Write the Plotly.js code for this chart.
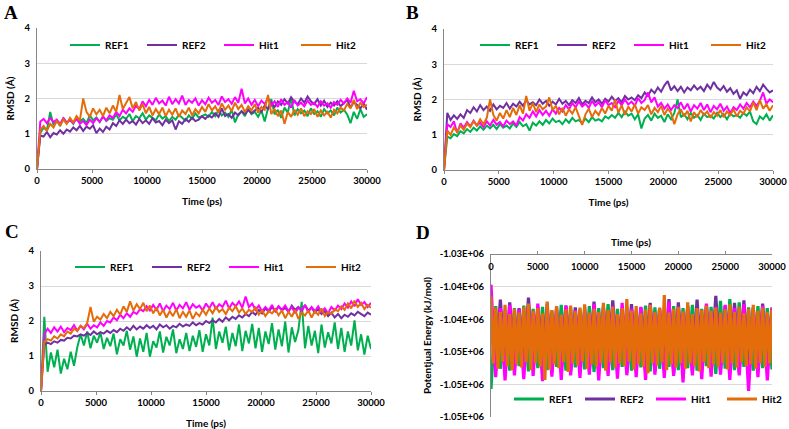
<!DOCTYPE html>
<html>
<head>
<meta charset="utf-8">
<script src="https://cdn.plot.ly/plotly-3.0.1.min.js"></script>
<style>
  html, body { margin: 0; padding: 0; background: #fff; }
  #chart { width: 789px; height: 429px; }
</style>
</head>
<body>
<div id="chart"></div>
<script>
// Series names and colours
const seriesNames = ['REF1', 'REF2', 'Hit1', 'Hit2'];
const seriesColors = ['#00B050', '#7030A0', '#FF00FF', '#E46C0A'];

// RMSD runs are sampled every 300 ps, energy runs every 250 / 500 ps
const rmsdStep = 300;
const peStepFine = 250;
const peStepCoarse = 500;

// Panel A - RMSD (Å)
const aRef1 = [0,
  1.02, 1.18, 1.10, 1.62, 1.25, 1.38, 1.22, 1.45, 1.30, 1.40,
  1.28, 1.48, 1.35, 1.42, 1.30, 1.52, 1.38, 1.46, 1.33, 1.50,
  1.36, 1.44, 1.40, 1.55, 1.38, 1.48, 1.42, 1.56, 1.36, 1.50,
  1.44, 1.58, 1.40, 1.52, 1.46, 1.38, 1.55, 1.43, 1.50, 1.36,
  1.48, 1.40, 1.54, 1.44, 1.37, 1.52, 1.42, 1.58, 1.46, 1.50,
  1.55, 1.48, 1.62, 1.50, 1.66, 1.52, 1.60, 1.48, 1.68, 1.32,
  1.55, 1.64, 1.50, 1.70, 1.56, 1.62, 1.48, 1.66, 1.35, 1.72,
  1.98, 1.55, 1.68, 1.45, 1.74, 1.60, 2.02, 1.52, 1.70, 1.58,
  1.66, 1.50, 1.72, 1.56, 1.64, 1.48, 1.70, 1.58, 1.66, 1.52,
  1.74, 1.60, 1.68, 1.55, 1.30, 1.62, 1.42, 1.70, 1.48, 1.55];
const aRef2 = [0,
  0.95, 0.92, 1.05, 0.90, 1.02, 0.98, 1.10, 1.00, 1.12, 1.06,
  1.18, 1.10, 1.22, 1.08, 1.20, 1.14, 1.24, 1.02, 1.15, 1.05,
  1.20, 1.12, 1.30, 1.22, 1.38, 1.28, 1.40, 1.30, 1.36, 1.26,
  1.42, 1.30, 1.38, 1.28, 1.44, 1.32, 1.36, 1.24, 1.40, 1.30,
  1.38, 1.12, 1.35, 1.28, 1.42, 1.34, 1.46, 1.36, 1.40, 1.50,
  1.42, 1.52, 1.46, 1.58, 1.48, 1.72, 1.50, 1.56, 1.45, 1.60,
  1.52, 1.64, 1.56, 1.68, 1.58, 1.66, 1.74, 1.62, 1.80, 1.70,
  1.88, 1.76, 1.92, 1.82, 1.98, 1.86, 2.04, 1.90, 1.84, 2.00,
  1.88, 2.06, 1.92, 1.84, 1.98, 1.80, 1.94, 1.76, 1.88, 1.80,
  1.92, 1.78, 1.86, 1.96, 1.74, 1.90, 1.82, 1.72, 1.86, 1.68];
const aHit1 = [0,
  1.35, 1.42, 1.30, 1.45, 1.33, 1.40, 1.28, 1.44, 1.32, 1.38,
  1.30, 1.42, 1.28, 1.36, 1.25, 1.40, 1.30, 1.44, 1.34, 1.48,
  1.38, 1.52, 1.45, 1.62, 1.50, 1.68, 1.58, 1.72, 1.62, 1.80,
  1.70, 1.92, 1.78, 1.96, 1.82, 2.02, 1.86, 1.94, 1.80, 2.05,
  1.84, 1.98, 1.86, 2.08, 1.82, 1.96, 1.88, 2.00, 1.80, 1.95,
  1.84, 2.02, 1.88, 1.96, 1.82, 2.06, 1.90, 1.98, 1.85, 2.04,
  1.88, 2.28, 1.86, 2.00, 1.82, 1.96, 1.78, 1.94, 1.84, 2.02,
  1.80, 1.92, 1.76, 1.98, 1.82, 1.90, 1.74, 1.96, 1.80, 1.88,
  1.78, 1.94, 1.82, 1.88, 1.76, 1.92, 1.80, 1.86, 1.74, 1.90,
  1.82, 1.96, 1.86, 2.00, 1.88, 2.22, 1.92, 1.98, 1.86, 2.04];
const aHit2 = [0,
  1.10, 1.22, 1.08, 1.28, 1.18, 1.36, 1.24, 1.40, 1.28, 1.45,
  1.32, 1.50, 1.38, 2.00, 1.62, 1.48, 1.72, 1.55, 1.68, 1.50,
  1.74, 1.58, 1.80, 1.62, 2.10, 1.70, 1.88, 2.04, 1.72, 1.90,
  1.66, 1.84, 1.58, 1.76, 1.52, 1.70, 1.56, 1.74, 1.50, 1.68,
  1.54, 1.72, 1.48, 1.66, 1.56, 1.74, 1.52, 1.70, 1.58, 1.76,
  1.62, 1.84, 1.66, 1.78, 1.60, 1.86, 1.68, 1.80, 1.64, 1.88,
  1.70, 1.82, 1.62, 1.78, 1.66, 1.84, 1.60, 1.76, 1.68, 2.10,
  1.56, 1.70, 1.50, 1.66, 1.28, 1.62, 1.48, 1.68, 1.54, 1.72,
  1.50, 1.64, 1.56, 1.70, 1.48, 1.66, 1.52, 1.62, 1.46, 1.68,
  1.58, 1.74, 1.66, 1.84, 1.72, 1.96, 1.70, 1.88, 1.76, 1.82];

// Panel B - RMSD (Å)
const bRef1 = [0,
  0.95, 0.90, 1.02, 0.96, 1.10, 1.04, 1.16, 1.08, 1.20, 1.12,
  1.24, 1.14, 1.26, 1.18, 1.28, 1.16, 1.30, 1.20, 1.26, 1.18,
  1.32, 1.22, 1.36, 1.24, 1.30, 1.12, 1.34, 1.26, 1.38, 1.28,
  1.42, 1.32, 1.46, 1.36, 1.40, 1.30, 1.44, 1.34, 1.48, 1.38,
  1.42, 1.32, 1.46, 1.36, 1.50, 1.40, 1.44, 1.38, 1.52, 1.46,
  1.56, 1.48, 1.62, 1.50, 1.66, 1.54, 1.60, 1.44, 1.58, 1.18,
  1.46, 1.56, 1.40, 1.60, 1.48, 1.54, 1.36, 1.58, 1.44, 1.62,
  2.00, 1.50, 1.58, 1.44, 1.62, 1.48, 1.56, 1.42, 1.60, 1.50,
  1.54, 1.46, 1.62, 1.50, 1.58, 1.44, 1.60, 1.52, 1.56, 1.48,
  1.62, 1.54, 1.66, 1.38, 1.30, 1.52, 1.44, 1.58, 1.40, 1.55];
const bRef2 = [0,
  1.62, 1.42, 1.55, 1.45, 1.58, 1.48, 1.70, 1.62, 1.78, 1.66,
  1.84, 1.70, 1.80, 1.68, 1.86, 1.72, 1.82, 1.76, 1.90, 1.74,
  1.88, 1.80, 1.94, 1.82, 1.98, 1.86, 1.92, 1.84, 2.00, 1.88,
  1.96, 1.82, 1.94, 1.86, 2.02, 1.88, 1.96, 1.84, 1.98, 1.90,
  2.04, 1.86, 1.96, 1.90, 2.06, 1.92, 2.00, 1.88, 2.02, 1.94,
  2.08, 1.96, 2.04, 1.92, 2.10, 2.00, 2.06, 1.98, 2.12, 2.04,
  2.20, 2.10, 2.28, 2.18, 2.34, 2.22, 2.40, 2.52, 2.26, 2.38,
  2.24, 2.36, 2.20, 2.34, 2.26, 2.40, 2.28, 2.36, 2.24, 2.42,
  2.30, 2.50, 2.34, 2.26, 2.38, 2.22, 2.32, 2.16, 2.26, 2.02,
  2.20, 2.12, 2.28, 2.18, 2.36, 2.24, 2.42, 2.30, 2.20, 2.26];
const bHit1 = [0,
  1.30, 1.22, 1.38, 1.05, 1.32, 1.20, 1.36, 1.24, 1.40, 1.26,
  1.34, 1.22, 1.38, 1.26, 1.42, 1.28, 1.36, 1.24, 1.40, 1.30,
  1.38, 1.26, 1.50, 1.40, 1.58, 1.48, 1.66, 1.52, 1.70, 1.56,
  1.68, 1.54, 1.72, 1.60, 1.76, 1.66, 1.84, 1.72, 1.90, 1.78,
  1.94, 1.80, 1.88, 1.76, 1.96, 1.82, 1.92, 1.78, 1.98, 1.84,
  1.90, 1.78, 1.96, 1.84, 2.00, 1.86, 1.94, 1.82, 2.04, 1.90,
  1.98, 2.20, 1.92, 2.06, 1.80, 1.90, 1.74, 1.86, 1.70, 1.84,
  1.76, 1.92, 1.72, 1.88, 1.66, 1.84, 1.74, 1.90, 1.70, 1.86,
  1.64, 1.82, 1.72, 1.88, 1.68, 1.80, 1.62, 1.78, 1.70, 1.86,
  1.74, 1.90, 1.78, 1.94, 1.82, 1.96, 2.20, 1.88, 2.00, 1.92];
const bHit2 = [0,
  1.12, 1.00, 1.20, 1.08, 1.26, 1.14, 1.32, 1.22, 1.38, 1.26,
  1.44, 1.30, 1.48, 2.00, 1.56, 1.40, 1.62, 1.46, 1.70, 1.50,
  1.76, 1.56, 1.84, 1.60, 2.10, 1.68, 1.90, 1.64, 1.86, 1.72,
  1.80, 2.06, 1.70, 1.82, 1.58, 1.76, 1.54, 1.72, 1.60, 1.78,
  1.52, 1.28, 1.58, 1.74, 1.50, 1.68, 1.56, 1.76, 1.60, 1.82,
  1.68, 2.00, 1.62, 1.84, 1.56, 1.80, 1.66, 1.86, 1.60, 1.78,
  1.70, 1.84, 1.58, 1.76, 1.64, 1.82, 1.56, 1.74, 1.62, 1.30,
  1.58, 1.72, 1.52, 1.68, 1.38, 1.64, 1.50, 1.70, 1.56, 1.66,
  1.48, 1.64, 1.54, 1.70, 1.50, 1.66, 1.56, 1.72, 1.52, 1.68,
  1.60, 1.78, 1.66, 1.92, 1.70, 1.98, 1.74, 1.86, 1.68, 1.84];

// Panel C - RMSD (Å)
const cRef1 = [0,
  2.12, 0.55, 1.10, 0.68, 1.18, 0.50, 0.92, 0.62, 1.12, 0.72,
  1.25, 1.62, 1.30, 1.70, 1.22, 1.58, 1.38, 1.68, 1.20, 1.52,
  1.28, 1.64, 1.05, 1.48, 1.30, 1.72, 1.18, 1.56, 0.98, 1.50,
  1.12, 1.66, 0.98, 1.42, 1.24, 1.70, 1.10, 1.55, 1.30, 1.76,
  1.08, 1.48, 1.20, 1.66, 1.14, 1.58, 1.26, 1.74, 1.12, 1.62,
  1.30, 2.10, 1.20, 1.70, 1.38, 1.84, 1.16, 1.66, 1.28, 1.90,
  1.14, 1.72, 1.36, 1.92, 1.22, 1.80, 1.12, 1.70, 1.34, 1.94,
  1.18, 1.76, 1.28, 1.98, 1.10, 1.82, 1.40, 1.74, 2.55, 1.22,
  1.86, 1.30, 1.72, 1.08, 1.90, 1.24, 1.68, 1.36, 1.96, 1.20,
  1.80, 1.12, 1.70, 1.30, 2.02, 1.16, 1.62, 1.04, 1.58, 1.20];
const cRef2 = [0,
  1.32, 1.38, 1.34, 1.42, 1.38, 1.46, 1.44, 1.52, 1.50, 1.58,
  1.56, 1.62, 1.58, 1.66, 1.60, 1.70, 1.62, 1.68, 1.64, 1.72,
  1.66, 1.74, 1.68, 1.78, 1.72, 1.82, 1.74, 1.86, 1.76, 1.84,
  1.78, 1.88, 1.80, 1.86, 1.76, 1.90, 1.82, 1.88, 1.78, 1.86,
  1.82, 1.92, 1.84, 1.90, 1.86, 1.96, 1.88, 1.94, 1.90, 2.00,
  1.94, 2.02, 1.96, 2.06, 1.98, 2.10, 2.02, 2.12, 2.06, 2.16,
  2.10, 2.20, 2.14, 2.26, 2.18, 2.32, 2.22, 2.36, 2.26, 2.40,
  2.28, 2.42, 2.30, 2.38, 2.26, 2.44, 2.32, 2.40, 2.28, 2.46,
  2.30, 2.38, 2.24, 2.34, 2.20, 2.28, 2.14, 2.24, 2.10, 2.20,
  2.08, 2.18, 2.12, 2.22, 2.16, 2.26, 2.20, 2.14, 2.24, 2.18];
const cHit1 = [0,
  1.62, 1.78, 1.66, 1.82, 1.70, 1.84, 1.68, 1.80, 1.74, 1.88,
  1.72, 1.86, 1.76, 1.92, 1.78, 1.88, 1.82, 1.96, 1.86, 2.00,
  1.96, 2.10, 2.02, 2.18, 2.08, 2.22, 2.12, 2.26, 2.20, 2.34,
  2.28, 2.42, 2.30, 2.46, 2.32, 2.50, 2.28, 2.44, 2.34, 2.52,
  2.30, 2.46, 2.36, 2.54, 2.32, 2.48, 2.38, 2.44, 2.30, 2.50,
  2.36, 2.54, 2.34, 2.48, 2.40, 2.58, 2.36, 2.52, 2.42, 2.56,
  2.38, 2.70, 2.40, 2.50, 2.32, 2.44, 2.28, 2.40, 2.30, 2.46,
  2.26, 2.42, 2.32, 2.44, 2.28, 2.40, 2.22, 2.38, 2.30, 2.46,
  2.24, 2.40, 2.28, 2.42, 2.26, 2.36, 2.22, 2.40, 2.30, 2.44,
  2.34, 2.50, 2.38, 2.56, 2.42, 2.62, 2.46, 2.54, 2.40, 2.52];
const cHit2 = [0,
  1.40, 1.48, 1.44, 1.56, 1.50, 1.62, 1.56, 1.70, 1.64, 1.78,
  1.72, 1.86, 1.80, 1.94, 2.40, 1.98, 2.12, 2.04, 2.20, 2.08,
  2.26, 2.14, 2.32, 2.18, 2.42, 2.26, 2.56, 2.30, 2.48, 2.34,
  2.52, 2.28, 2.44, 2.22, 2.38, 2.16, 2.32, 2.10, 2.28, 2.14,
  2.34, 2.08, 2.26, 2.12, 2.30, 2.06, 2.24, 2.14, 2.32, 2.18,
  2.36, 2.22, 2.40, 2.26, 2.34, 2.20, 2.38, 2.28, 2.42, 2.24,
  2.36, 2.20, 2.32, 2.26, 2.38, 2.18, 2.30, 2.14, 2.28, 2.22,
  2.34, 2.16, 2.30, 2.08, 2.26, 2.12, 2.32, 2.06, 2.24, 2.16,
  2.30, 2.10, 2.28, 2.18, 2.36, 2.14, 2.26, 2.20, 2.34, 2.28,
  2.42, 2.32, 2.50, 2.36, 2.58, 2.40, 2.52, 2.34, 2.46, 2.38];

// Panel D - potential energy (kJ/mol); REF1/REF2/Hit1 every 500 ps, Hit2 every 250 ps
const dRef1 = [
  -1050700, -1038000, -1047600, -1038600, -1047900, -1038300, -1047200, -1037900, -1048000, -1038400,
  -1047500, -1038100, -1047800, -1038700, -1047300, -1037800, -1047900, -1038200, -1047400, -1038500,
  -1047700, -1038000, -1048100, -1038300, -1047500, -1037700, -1047800, -1038400, -1047300, -1038100,
  -1047900, -1038600, -1047400, -1037900, -1048000, -1038200, -1047600, -1038500, -1047300, -1038000,
  -1047800, -1038300, -1047500, -1037800, -1047900, -1038400, -1047200, -1038100, -1048400, -1037200,
  -1047600, -1036900, -1047800, -1037400, -1047300, -1038200, -1047900, -1038000, -1047500, -1038300,
  -1047700];
const dRef2 = [
  -1038500, -1047800, -1037000, -1048100, -1037400, -1047600, -1038300, -1048000, -1036700, -1047500,
  -1038100, -1047900, -1037600, -1048200, -1038400, -1047600, -1037900, -1048000, -1038200, -1047400,
  -1038600, -1047800, -1037300, -1048100, -1038000, -1047500, -1037100, -1047900, -1038400, -1048200,
  -1037700, -1047600, -1038200, -1047900, -1037500, -1048000, -1038300, -1047600, -1036900, -1048300,
  -1037400, -1047700, -1038100, -1048000, -1037000, -1047500, -1037800, -1048100, -1036400, -1047800,
  -1038000, -1047600, -1037500, -1048200, -1037100, -1047700, -1038300, -1047900, -1037600, -1048000,
  -1038200];
const dHit1 = [
  -1034700, -1048900, -1038300, -1049400, -1037800, -1048600, -1038500, -1049200, -1038000, -1048700,
  -1037600, -1049500, -1038400, -1048800, -1038100, -1049300, -1037900, -1048600, -1038600, -1049000,
  -1038200, -1048500, -1037700, -1049400, -1038300, -1048700, -1038000, -1049100, -1037500, -1048600,
  -1038400, -1048900, -1038100, -1049300, -1037800, -1048500, -1038500, -1049000, -1037300, -1048700,
  -1038200, -1049700, -1037900, -1048600, -1038400, -1049200, -1037600, -1048800, -1038100, -1048500,
  -1037800, -1049300, -1038300, -1048600, -1037700, -1051000, -1038200, -1048900, -1037900, -1049400,
  -1038300];
const dHit2 = [
  -1036500, -1046800, -1038200, -1047600, -1038900, -1046500, -1037800, -1047200, -1039200, -1047800,
  -1038400, -1046900, -1039000, -1047400, -1038100, -1046600, -1037600, -1047800, -1038700, -1046700,
  -1038300, -1047300, -1039100, -1049300, -1037300, -1047700, -1038600, -1046900, -1038000, -1047500,
  -1039300, -1046600, -1038500, -1048100, -1037900, -1046800, -1038800, -1047100, -1038200, -1046500,
  -1037700, -1047600, -1039000, -1046900, -1038400, -1047300, -1038900, -1046700, -1037500, -1047900,
  -1038600, -1046600, -1038100, -1047400, -1039200, -1046800, -1038300, -1047200, -1036900, -1046500,
  -1038700, -1047700, -1038000, -1046900, -1039100, -1047300, -1038500, -1048300, -1037800, -1046700,
  -1038900, -1047100, -1038200, -1046600, -1036300, -1047800, -1039000, -1046900, -1038400, -1047400,
  -1038100, -1046700, -1038800, -1047600, -1037400, -1046800, -1039200, -1047200, -1038300, -1048000,
  -1038600, -1046600, -1037900, -1047500, -1038700, -1046900, -1038200, -1047300, -1039000, -1046700,
  -1038500, -1047700, -1037700, -1046800, -1038900, -1047400, -1038100, -1046600, -1039100, -1047200,
  -1038400, -1046900, -1037800, -1047600, -1038700, -1046700, -1038200, -1047300, -1038900, -1046800,
  -1038500];

// Energy axis ticks, labelled as in the original
const peTickVals = [-1030000, -1035000, -1040000, -1045000, -1050000, -1055000];
const peTickText = ['-1.03E+06', '-1.04E+06', '-1.04E+06', '-1.05E+06', '-1.05E+06', '-1.05E+06'];

const FONT = 'Lato, "Open Sans", sans-serif';
const axisGray = '#868686';
const gridGray = '#D9D9D9';
const W = 789, H = 429;

function timeGrid(n, step) {
  return Array.from({ length: n }, (_, i) => i * step);
}

function makeTraces(sets, step, xa, ya, legendId, width) {
  return sets.map((ys, i) => ({
    type: 'scatter',
    mode: 'lines',
    x: timeGrid(ys.length, Array.isArray(step) ? step[i] : step),
    y: ys,
    name: seriesNames[i],
    xaxis: xa,
    yaxis: ya,
    legend: legendId,
    line: { color: seriesColors[i], width: width },
    hoverinfo: 'skip'
  }));
}

const traces = [
  ...makeTraces([aRef1, aRef2, aHit1, aHit2], rmsdStep, 'x', 'y', 'legend', 2),
  ...makeTraces([bRef1, bRef2, bHit1, bHit2], rmsdStep, 'x2', 'y2', 'legend2', 2),
  ...makeTraces([cRef1, cRef2, cHit1, cHit2], rmsdStep, 'x3', 'y3', 'legend3', 2),
  ...makeTraces([dRef1, dRef2, dHit1, dHit2],
    [peStepCoarse, peStepCoarse, peStepCoarse, peStepFine], 'x4', 'y4', 'legend4', 3.2)
];

const boldFont = (size) => ({ family: FONT, size: size, weight: 'bold', color: '#000' });

// pixel box -> paper domain
const xDom = (l, r) => [l / W, r / W];
const yDom = (top, bottom) => [1 - bottom / H, 1 - top / H];

function timeAxis(domain, anchor) {
  return {
    domain, anchor,
    range: [0, 30000], dtick: 5000, tick0: 0, tickformat: 'd',
    ticks: 'outside', ticklen: 3, tickcolor: axisGray,
    showline: true, linecolor: axisGray, linewidth: 1,
    showgrid: false, zeroline: false, automargin: false,
    tickfont: boldFont(9.5),
    title: { text: 'Time (ps)', font: boldFont(10), standoff: 12 },
    fixedrange: true
  };
}

function rmsdAxis(domain, anchor) {
  return {
    domain, anchor,
    range: [0, 4], dtick: 1, tick0: 0,
    ticks: '', showline: true, linecolor: axisGray, linewidth: 1,
    showgrid: true, gridcolor: gridGray, gridwidth: 1, zeroline: false,
    automargin: false,
    tickfont: boldFont(9.5), ticklabelstandoff: 4,
    title: { text: 'RMSD (Å)', font: boldFont(10), standoff: 8 },
    fixedrange: true
  };
}

function legendAt(xPx, yPx, entry) {
  return {
    orientation: 'h', x: xPx / W, y: 1 - yPx / H,
    xanchor: 'left', yanchor: 'middle',
    entrywidth: entry, entrywidthmode: 'pixels',
    font: boldFont(10), bgcolor: 'rgba(0,0,0,0)',
    itemclick: false, itemdoubleclick: false
  };
}

function paperText(text, xPx, yPx, font, anchor) {
  return {
    text, xref: 'paper', yref: 'paper', x: xPx / W, y: 1 - yPx / H,
    xanchor: anchor || 'left', yanchor: 'middle', showarrow: false, font
  };
}

const letterFont = { family: '"Liberation Serif", "DejaVu Serif", serif', size: 19, weight: 'bold', color: '#000' };

// Panel D: energy plot with the time axis running along its top edge
const dDomainY = yDom(254, 417);
const timeAxisD = Object.assign(timeAxis(xDom(491, 772), 'free'), {
  position: dDomainY[1], side: 'bottom', ticks: 'inside', ticklen: 3,
  ticklabelstandoff: 4,
  title: { text: '' }
});

const layout = {
  width: W, height: H,
  margin: { l: 0, r: 0, t: 0, b: 0, autoexpand: false },
  paper_bgcolor: '#fff', plot_bgcolor: '#fff',
  showlegend: true,
  xaxis: timeAxis(xDom(37, 367), 'y'),
  yaxis: rmsdAxis(yDom(28, 169), 'x'),
  xaxis2: timeAxis(xDom(444, 773), 'y2'),
  yaxis2: rmsdAxis(yDom(29, 170), 'x2'),
  xaxis3: timeAxis(xDom(41, 371), 'y3'),
  yaxis3: rmsdAxis(yDom(251, 391), 'x3'),
  xaxis4: timeAxisD,
  yaxis4: {
    domain: dDomainY, anchor: 'x4',
    range: [-1055000, -1030000],
    tickmode: 'array', tickvals: peTickVals, ticktext: peTickText,
    ticks: '', showline: true, linecolor: axisGray, linewidth: 1,
    showgrid: true, gridcolor: gridGray, zeroline: false, automargin: false,
    tickfont: boldFont(9.5), ticklabelstandoff: 4,
    title: { text: 'Potentjual Energy (kJ/mol)', font: boldFont(10), standoff: 6 },
    fixedrange: true
  },
  legend: legendAt(65, 45, 32),
  legend2: legendAt(475, 45, 32),
  legend3: legendAt(70, 267, 32),
  legend4: legendAt(509, 399, 26),
  annotations: [
    paperText('A', 2, 12, letterFont),
    paperText('B', 404, 12, letterFont),
    paperText('C', 3, 231, letterFont),
    paperText('D', 414, 232, letterFont),
    paperText('Time (ps)', 631, 242, boldFont(10), 'center')
  ]
};

Plotly.newPlot('chart', traces, layout, { displayModeBar: false, staticPlot: true });
</script>
</body>
</html>
